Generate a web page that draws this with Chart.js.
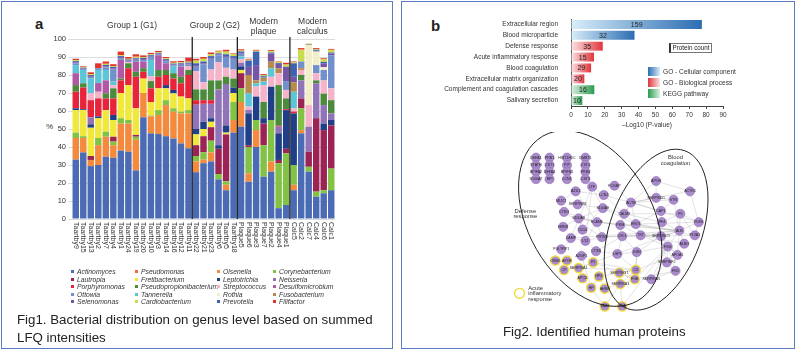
<!DOCTYPE html>
<html>
<head>
<meta charset="utf-8">
<script src="https://cdn.jsdelivr.net/npm/chart.js@4.4.1/dist/chart.umd.min.js"></script>
<style>
  body { margin: 0; width: 797px; height: 352px; background: #fff; position: relative; overflow: hidden;
         font-family: "Liberation Sans", Arial, sans-serif; color: #222; }
  .panel { position: absolute; top: 1px; height: 348px; border: 1.5px solid #5b7cc2; box-sizing: border-box; }
  canvas { position: absolute; }
  .tag { position: absolute; font-weight: bold; font-size: 15px; }
  .caption { position: absolute; line-height: 17.7px; color: #222; white-space: nowrap; font-size: 13.3px; }
  #genusLegend { position: absolute; left: 71px; top: 268px; display: grid;
                 grid-template-columns: 64px 82px 56px 80px; font-size: 6.8px; font-style: italic; color: #333; }
  #genusLegend div { height: 7.5px; line-height: 7.5px; white-space: nowrap; }
  #genusLegend span { display: inline-block; width: 3px; height: 3px; margin: 0 3px 1px 0; vertical-align: middle; }
  .pcount { position: absolute; left: 669px; top: 43px; width: 43px; height: 10px; box-sizing: border-box;
            border: 1px solid #777; border-left: 2px solid #333; font-size: 6.3px; line-height: 8px; text-align: center; }
  #termLegend { position: absolute; left: 648px; top: 67px; font-size: 6.6px; color: #333; }
  #termLegend div { height: 11px; line-height: 9px; white-space: nowrap; }
  #termLegend span { display: inline-block; width: 12px; height: 9px; margin-right: 3px; vertical-align: top; }
</style>
</head>
<body>
<div class="panel" style="left:1px;width:392px"></div>
<div class="panel" style="left:401px;width:394px"></div>

<div class="tag" style="left:35px;top:15px">a</div>
<div style="position:absolute;left:46px;top:122px;font-size:8px;color:#333">%</div>
<canvas id="genusChart" width="315" height="265" style="left:30px;top:5px"></canvas>
<div id="genusLegend"></div>
<div class="caption" style="left:17px;top:311px">Fig1. Bacterial distribution on genus level based on summed<br>LFQ intensities</div>

<div class="tag" style="left:431px;top:17px">b</div>
<canvas id="termChart" width="385" height="130" style="left:405px;top:5px"></canvas>
<div class="pcount">Protein count</div>
<div id="termLegend"></div>
<canvas id="networkChart" width="385" height="186" style="left:405px;top:132px"></canvas>
<div class="caption" style="left:503px;top:323px">Fig2. Identified human proteins</div>

<script>
// ---- Fig 1: genus distribution (stacked %) ----
const sampleLabels = ["Taartby9", "Taartby15", "Taartby13", "Taartby2", "Taartby7", "Taartby4", "Taartby1", "Taartby24",
  "Taartby19", "Taartby20", "Taartby10", "Taartby3", "Taartby14", "Taartby16", "Taartby12", "Taartby11",
  "Taartby22", "Taartby21", "Taartby23", "Taartby6", "Taartby5", "Taartby18",
  "Plaque5", "Plaque6", "Plaque3", "Plaque7", "Plaque2", "Plaque4", "Plaque1",
  "Calc5", "Calc2", "Calc7", "Calc4", "Calc6", "Calc1"];
const groupNames = [["Group 1 (G1)"], ["Group 2 (G2)"], ["Modern", "plaque"], ["Modern", "calculus"]];
const groupSizes = [16, 6, 7, 6];
const percentTicks = [0, 10, 20, 30, 40, 50, 60, 70, 80, 90, 100];

const actinomyces = [33, 37, 29.4, 30, 34.6, 34, 38, 37.4, 27, 56.5, 47.6, 47.2, 46, 44.7, 42, 39.3, 26, 31, 32, 22, 16, 48, 51.3, 20.7, 40, 23.5, 26.3, 6, 7.8, 16, 47.6, 26.3, 12.4, 14.3, 16];
const olsenella = [12, 8, 3.4, 11, 11.1, 7, 15, 15.6, 17, 13.5, 9.4, 10.6, 17.3, 14.9, 16.7, 19.4, 6, 2, 5, 0, 3, 7, 13.7, 4.7, 9.4, 0, 5.6, 0, 0, 3, 1.8, 0, 0, 0, 0];
const corynebacterium = [3, 1, 0, 4, 2.8, 2, 3, 2, 1.7, 0, 0.5, 2.7, 2.7, 1.9, 0.9, 1.8, 3, 4, 6.5, 3, 2, 10, 7.6, 14.6, 5.6, 17.5, 23.1, 25, 28.7, 11, 12.1, 2.7, 2.8, 1.7, 12];
const lautropia = [0, 0, 2.2, 0, 0, 2.7, 0, 0, 1, 0, 0, 0, 0, 0, 0, 0, 6, 9, 7.5, 14, 26, 0, 8.4, 1, 0, 12, 0, 1.8, 2.5, 0, 5.5, 8.4, 40.8, 33.4, 24];
const fretibacterium = [12.5, 14.5, 15.7, 11, 12, 9.3, 14, 19.4, 14.8, 8, 7.5, 12.1, 6.6, 8.3, 8.4, 6.5, 6, 4, 3, 0, 1, 5, 1.8, 0, 0, 0, 0, 0, 0, 0, 0, 0, 0, 0, 0];
const leptotrichia = [1, 0.5, 1.9, 1, 0, 2.8, 0, 0, 0, 0, 0, 0, 1.8, 1.9, 0, 0, 3, 4, 2, 2, 4, 3, 2, 17.7, 13, 3, 18.5, 14.8, 21.5, 28.7, 0, 0, 0, 3.6, 3];
const neisseria = [0, 0, 3.9, 0, 0, 0, 0, 0, 0, 0, 0, 0, 0, 0, 0, 0, 13.5, 10, 8, 31, 23, 0, 2, 2, 0, 0, 0, 3.7, 0, 0, 10, 13.9, 19.4, 10.3, 3.7];
const porphyromonas = [9.2, 12, 9.5, 10, 6.5, 9.2, 7, 9.3, 17.5, 3.8, 7.6, 6.4, 5.6, 6.3, 7.4, 13, 2.5, 2, 2, 0, 0, 0, 0, 0, 0, 0, 0, 0.5, 0.5, 1, 0, 0, 0, 0, 0];
const pseudopropionibacterium = [3.7, 2.4, 0, 0, 2.8, 5.6, 1, 2.8, 2.8, 2, 4, 3.8, 2.8, 3, 3.6, 2.8, 6, 6, 11, 5, 4, 5, 0, 0, 0, 9, 0, 22.6, 6, 0, 3, 0, 1.6, 6.3, 7.3];
const streptococcus = [0, 0, 4, 3.7, 0, 1.8, 0, 0.7, 0, 0, 2.8, 0, 0, 0, 0, 2, 10, 4, 6, 10, 5, 5, 2, 1.7, 5.6, 9.4, 5.5, 6.6, 4.7, 1.8, 2.8, 12, 4, 7.4, 6.6];
const desulfomicrobium = [6.6, 0, 0, 4.8, 7.2, 0, 10.4, 0, 5.6, 3.6, 0, 8.2, 3.7, 0, 5.6, 0, 0, 0, 0, 0, 0, 0, 0, 0, 0, 0, 0, 0, 0, 0, 0, 0, 0, 0, 0];
const tannerella = [4.5, 7.4, 8, 7.3, 5.8, 2, 0, 0, 0, 0, 9, 0, 0, 3.6, 0, 0, 0, 0, 0, 0, 0, 0, 1.5, 7.4, 1.8, 2, 4.7, 0, 0, 9.2, 0, 0, 0, 0, 0];
const fusobacterium = [0, 0, 0, 0, 0, 0, 0, 0, 0, 0, 0, 0, 0, 0, 0, 0, 0, 0, 0, 0, 0, 0, 0, 10.2, 1.6, 2, 3.7, 2.7, 0, 5.3, 1, 0, 0, 0, 0];
const ottowia = [1, 0.5, 1, 1, 1.5, 6.6, 1, 0.5, 1, 1, 1.5, 0.6, 1.2, 0.8, 1, 1, 3, 10, 6, 4, 6, 6, 1.5, 0, 0, 0.6, 0, 0, 4.9, 0, 3.7, 0, 4.5, 5.8, 18.4];
const rothia = [0, 0, 0, 0, 0, 0, 0, 0, 0, 0, 0, 0, 0, 0, 0, 0, 0, 0, 0, 0, 0, 0, 0, 0, 0, 0, 0, 0, 0, 0, 0, 33.4, 7.5, 1.5, 0];
const selenomonas = [0.5, 0.3, 0.5, 0, 0.5, 0.7, 0.5, 0.4, 0.4, 0.5, 0.4, 0.3, 0.5, 0.4, 0.4, 0.5, 0.5, 0.5, 0.5, 0.5, 0.5, 0.5, 0.5, 4.5, 8.5, 0, 4.6, 2.5, 8, 3, 0, 0.3, 0.5, 2, 1];
const prevotella = [0.7, 0.4, 0.5, 0, 0.8, 0.8, 0.6, 0.5, 0.5, 0.6, 0.7, 0.4, 0.6, 0.5, 0.5, 0.6, 1, 1, 1, 0.5, 1, 1, 0.8, 3.5, 7.5, 0.5, 0.5, 0.5, 0, 7.5, 0, 0, 0.5, 1, 0.5];
const cardiobacterium = [0.6, 0.3, 0.5, 0, 0.5, 0.5, 0.5, 0.4, 0.5, 0.5, 0.5, 0.4, 0.5, 0.5, 0.5, 0.5, 1.5, 1.5, 1, 1, 1.5, 1, 0.5, 0.5, 0.5, 0.5, 0.8, 0.7, 1.2, 0.5, 6.5, 0.5, 0.5, 1.5, 1.5];
const pseudomonas = [0, 0, 0, 0, 0.5, 0, 0, 0, 0.5, 0, 0, 0, 0, 0, 0, 0, 0, 0, 0, 0, 0, 0, 0, 0, 0, 0, 0, 0, 0, 0, 0.5, 0, 0, 0, 0];
const filifactor = [0.7, 0.5, 1, 2.7, 0.9, 1, 2, 1, 1.2, 0.9, 0.8, 0.7, 0.7, 0.8, 0.8, 2.3, 1, 1, 1, 0.5, 1, 0.5, 0.7, 0.5, 0.5, 0.5, 0.5, 0.3, 1, 0.5, 0.5, 0, 0.5, 0.5, 0.5];

// bottom -> top stacking
const stackOrder = [
  ["Actinomyces", actinomyces], ["Olsenella", olsenella], ["Corynebacterium", corynebacterium],
  ["Lautropia", lautropia], ["Fretibacterium", fretibacterium], ["Leptotrichia", leptotrichia],
  ["Neisseria", neisseria], ["Porphyromonas", porphyromonas], ["Pseudopropionibacterium", pseudopropionibacterium],
  ["Streptococcus", streptococcus], ["Desulfomicrobium", desulfomicrobium], ["Tannerella", tannerella],
  ["Fusobacterium", fusobacterium], ["Ottowia", ottowia], ["Rothia", rothia], ["Selenomonas", selenomonas],
  ["Prevotella", prevotella], ["Cardiobacterium", cardiobacterium], ["Pseudomonas", pseudomonas], ["Filifactor", filifactor]
];
const legendOrder = ["Actinomyces", "Pseudomonas", "Olsenella", "Corynebacterium",
  "Lautropia", "Fretibacterium", "Leptotrichia", "Neisseria",
  "Porphyromonas", "Pseudopropionibacterium", "Streptococcus", "Desulfomicrobium",
  "Ottowia", "Tannerella", "Rothia", "Fusobacterium",
  "Selenomonas", "Cardiobacterium", "Prevotella", "Filifactor"];

const genusColors = {
  Actinomyces: "#4b6cb4", Olsenella: "#f38a3d", Corynebacterium: "#82c244", Lautropia: "#9c2455",
  Fretibacterium: "#f0e83a", Leptotrichia: "#213f86", Neisseria: "#9173b7", Porphyromonas: "#e8243a",
  Pseudopropionibacterium: "#4c8b3c", Streptococcus: "#f5b4c9", Desulfomicrobium: "#b158a7", Tannerella: "#5cc6d6",
  Fusobacterium: "#b98a4e", Ottowia: "#7190cc", Rothia: "#f2eec8", Selenomonas: "#7555a6",
  Prevotella: "#3f61b2", Cardiobacterium: "#cadc50", Pseudomonas: "#f26442", Filifactor: "#e1342d"
};

const fontFamily = '"Liberation Sans", Arial, sans-serif';

const groupPlugin = {
  id: "groups",
  afterDatasetsDraw(chart) {
    const { ctx, chartArea, scales: { x } } = chart;
    ctx.save();
    ctx.strokeStyle = "#111";
    ctx.lineWidth = 1.2;
    ctx.fillStyle = "#333";
    ctx.font = "8.5px " + fontFamily;
    ctx.textAlign = "center";
    ctx.textBaseline = "middle";
    let start = 0;
    groupSizes.forEach((size, g) => {
      const end = start + size;
      const left = start === 0 ? chartArea.left : (x.getPixelForValue(start - 1) + x.getPixelForValue(start)) / 2;
      const right = end === sampleLabels.length ? chartArea.right : (x.getPixelForValue(end - 1) + x.getPixelForValue(end)) / 2;
      if (start > 0) {
        ctx.beginPath();
        ctx.moveTo(left, chartArea.top - 2);
        ctx.lineTo(left, chartArea.bottom);
        ctx.stroke();
      }
      const lines = groupNames[g];
      lines.forEach((t, k) => {
        const yy = lines.length === 1 ? 21 : 17 + k * 10;
        ctx.fillText(t, (left + right) / 2, yy);
      });
      start = end;
    });
    // sample labels, reading downwards
    ctx.font = "7px " + fontFamily;
    ctx.textAlign = "left";
    sampleLabels.forEach((lab, i) => {
      ctx.save();
      ctx.translate(x.getPixelForValue(i), chartArea.bottom + 3);
      ctx.rotate(Math.PI / 2);
      ctx.fillText(lab, 0, 0);
      ctx.restore();
    });
    ctx.restore();
  }
};

new Chart(document.getElementById("genusChart"), {
  type: "bar",
  data: {
    labels: sampleLabels,
    datasets: stackOrder.map(([name, values]) => ({
      label: name,
      data: values,
      backgroundColor: genusColors[name],
      borderWidth: 0,
      barPercentage: 0.86,
      categoryPercentage: 1
    }))
  },
  options: {
    responsive: false,
    animation: false,
    layout: { padding: { top: 34, right: 10, left: 0, bottom: 0 } },
    plugins: { legend: { display: false }, tooltip: { enabled: false } },
    scales: {
      x: {
        stacked: true,
        grid: { display: false },
        border: { display: false },
        ticks: { display: false },
        afterFit(scale) { scale.height = 51; }
      },
      y: {
        stacked: true,
        min: 0,
        max: 100,
        afterBuildTicks(scale) { scale.ticks = percentTicks.map(v => ({ value: v })); },
        grid: { color: "#dcdcdc", tickLength: 4 },
        border: { display: false },
        ticks: { font: { size: 7.5, family: fontFamily }, color: "#333", padding: 2 },
        afterFit(scale) { scale.width = 42; }
      }
    }
  },
  plugins: [groupPlugin]
});

const legendBox = document.getElementById("genusLegend");
legendOrder.forEach(name => {
  const item = document.createElement("div");
  item.innerHTML = `<span style="background:${genusColors[name]}"></span>${name}`;
  legendBox.appendChild(item);
});

// ---- Fig 2: enriched terms ----
const termLabels = ["Extracellular region", "Blood microparticle", "Defense response", "Acute inflammatory response",
  "Blood coagulation", "Extracellular matrix organization", "Complement and coagulation cascades", "Salivary secretion"];
const termLogP = [77.5, 37.6, 18.8, 13.6, 11.9, 7.9, 13.8, 6.7];
const termCounts = [159, 32, 35, 15, 29, 20, 16, 10];
const termSource = ["GO - Cellular component", "GO - Cellular component", "GO - Biological process", "GO - Biological process",
  "GO - Biological process", "GO - Biological process", "KEGG pathway", "KEGG pathway"];
const sourceNames = ["GO - Cellular component", "GO - Biological process", "KEGG pathway"];
const logTicks = [0, 10, 20, 30, 40, 50, 60, 70, 80, 90];

const sourceGradient = {
  "GO - Cellular component": ["#d8eefa", "#2c6db2"],
  "GO - Biological process": ["#fbe4e6", "#e1353c"],
  "KEGG pathway": ["#dcf2e1", "#2c9a52"]
};

const countPlugin = {
  id: "counts",
  afterDatasetsDraw(chart) {
    const { ctx } = chart;
    const meta = chart.getDatasetMeta(0);
    ctx.save();
    ctx.font = "7px " + fontFamily;
    ctx.fillStyle = "#222";
    ctx.textAlign = "center";
    ctx.textBaseline = "middle";
    meta.data.forEach((bar, i) => {
      ctx.fillText(String(termCounts[i]), (bar.x + bar.base) / 2, bar.y + 0.5);
    });
    ctx.restore();
  }
};

new Chart(document.getElementById("termChart"), {
  type: "bar",
  data: {
    labels: termLabels,
    datasets: [{
      data: termLogP,
      borderWidth: 0,
      barPercentage: 0.82,
      categoryPercentage: 1,
      backgroundColor(c) {
        const chart = c.chart;
        if (!chart.chartArea) return "#888";
        const xs = chart.scales.x;
        const x0 = xs.getPixelForValue(0);
        const x1 = xs.getPixelForValue(termLogP[c.dataIndex]);
        const stops = sourceGradient[termSource[c.dataIndex]];
        const g = chart.ctx.createLinearGradient(x0, 0, x1, 0);
        g.addColorStop(0, stops[0]);
        g.addColorStop(1, stops[1]);
        return g;
      }
    }]
  },
  options: {
    indexAxis: "y",
    responsive: false,
    animation: false,
    layout: { padding: { top: 14, right: 67, left: 0, bottom: 0 } },
    plugins: { legend: { display: false }, tooltip: { enabled: false } },
    scales: {
      x: {
        min: 0,
        max: 90,
        afterBuildTicks(scale) { scale.ticks = logTicks.map(v => ({ value: v })); },
        grid: { drawOnChartArea: false, drawTicks: true, tickLength: 3, color: "#444" },
        border: { display: true, color: "#444" },
        ticks: { font: { size: 6.5, family: fontFamily }, color: "#333", padding: 2, maxRotation: 0 },
        title: {
          display: true,
          text: "\u2013Log10 (P-value)",
          font: { size: 6.5, family: fontFamily },
          color: "#333",
          padding: { top: 1, bottom: 6 }
        },
        afterFit(scale) { scale.height = 29; }
      },
      y: {
        grid: { display: false },
        border: { display: true, color: "#444" },
        ticks: { font: { size: 6.5, family: fontFamily }, color: "#333", padding: 5 },
        afterFit(scale) { scale.width = 166; }
      }
    }
  },
  plugins: [countPlugin]
});

const termLegend = document.getElementById("termLegend");
sourceNames.forEach(name => {
  const [light, dark] = sourceGradient[name];
  const row = document.createElement("div");
  row.innerHTML = `<span style="background:linear-gradient(90deg, ${dark}, ${light})"></span>${name}`;
  termLegend.appendChild(row);
});

// ---- Fig 2: protein network ----
const nodeLabels = ["DEFA1", "PRB1", "HIST1H1C", "DMBT1", "STATH", "CST1", "PIP", "CST4",
  "BPIFA2", "DEFA4", "BPIFB1", "PRB4", "S100A7", "BPI", "LCN1", "CST3",
  "FCGBP", "LTF", "AZU1", "LCN2", "MUC7", "SERPINB3", "S100A9", "CTSG", "S100A8", "ELANE", "HRNR", "CD14",
  "CAMP", "LYZ", "PRTN3", "PGLYRP1", "AZGP1", "CTSB",
  "ACTB", "CALM3", "PKM", "ENO1", "CFL1", "TKT", "LSP1", "GSN",
  "APOH", "SERPIND1", "VTN", "CAP1", "F5", "PLEK", "PF4", "ALB", "F13A1", "SERPINC1", "A1BG", "FGG",
  "APOA1", "SERPINF2", "FN1", "ACTN1", "SERPINA5",
  "ORM1", "APOE", "CP", "SERPINA1", "F2", "APCS", "HPX", "HP", "AHSG", "SERPING1", "C3", "SERPINA3", "FGB", "SAA1", "FGA"];
const nodeX = [134, 148, 166, 185, 134, 148, 166, 185, 134, 148, 166, 185, 134, 148, 166, 185,
  215, 192, 175, 204, 160, 177, 203, 163, 178, 197, 162, 182,
  170, 185, 202, 160, 181, 196,
  232, 225, 221, 237, 223, 242, 218, 238,
  258, 258, 276, 263, 283, 302, 264, 282, 298, 263, 287, 270,
  280, 269, 278, 293, 253,
  154, 166, 163, 178, 193, 182, 199, 191, 205, 220, 237, 221, 236, 205, 223];
const nodeY = [23, 23, 23, 23, 31, 31, 31, 31, 38, 38, 38, 38, 46, 46, 46, 46,
  53, 54, 59, 63, 69, 73, 77, 81, 88, 92, 97, 100,
  109, 112, 108, 121, 128, 123,
  71, 83, 95, 94, 107, 106, 126, 124,
  48, 66, 68, 80, 83, 92, 92, 101, 106, 107, 115, 118,
  127, 135, 144, 59, 153,
  133, 133, 143, 141, 135, 152, 150, 162, 163, 146, 143, 158, 153, 182, 182];
const acuteNodes = ["ORM1", "APOE", "CP", "SERPINA1", "F2", "APCS", "HPX", "HP", "AHSG", "SERPING1", "C3", "SERPINA3", "FGB", "SAA1", "FGA"];
const edgePairs = [
  ["ACTB", "CALM3"], ["ACTB", "PKM"], ["ACTB", "ENO1"], ["ACTB", "ACTN1"], ["ACTB", "SERPIND1"], ["ACTB", "CAP1"],
  ["ACTB", "LCN2"], ["ACTB", "FCGBP"], ["ACTB", "VTN"], ["ACTB", "PLEK"], ["ACTB", "APOH"],
  ["CALM3", "PKM"], ["CALM3", "ENO1"], ["CALM3", "S100A9"], ["CALM3", "F5"], ["CALM3", "PF4"], ["CALM3", "LCN2"],
  ["PKM", "ENO1"], ["PKM", "CFL1"], ["PKM", "TKT"], ["PKM", "ELANE"], ["PKM", "ALB"], ["PKM", "S100A8"],
  ["ENO1", "TKT"], ["ENO1", "ALB"], ["ENO1", "F13A1"], ["ENO1", "PLEK"], ["ENO1", "CAP1"], ["ENO1", "S100A9"],
  ["CFL1", "TKT"], ["CFL1", "LSP1"], ["CFL1", "GSN"], ["CFL1", "PRTN3"], ["CFL1", "SERPINC1"], ["CFL1", "CTSB"],
  ["TKT", "SERPINC1"], ["TKT", "ALB"], ["TKT", "FGG"], ["TKT", "A1BG"], ["TKT", "F13A1"], ["TKT", "PRTN3"],
  ["LSP1", "GSN"], ["LSP1", "CTSB"], ["LSP1", "C3"], ["GSN", "FGB"], ["GSN", "SERPINC1"], ["GSN", "FGG"], ["GSN", "C3"],
  ["ALB", "F5"], ["ALB", "PLEK"], ["ALB", "SERPINC1"], ["ALB", "A1BG"], ["ALB", "APOA1"], ["ALB", "FGG"], ["ALB", "VTN"],
  ["ALB", "ELANE"], ["ALB", "SERPINA1"], ["ALB", "CAMP"],
  ["SERPINC1", "FGG"], ["SERPINC1", "APOA1"], ["SERPINC1", "SERPINF2"], ["FGG", "APOA1"], ["FGG", "SERPINF2"],
  ["FGG", "FN1"], ["SERPINF2", "FN1"], ["FN1", "SERPINA5"], ["SERPINF2", "SERPINA5"], ["FGG", "SERPINA5"],
  ["APOH", "SERPIND1"], ["APOH", "ACTN1"], ["SERPIND1", "VTN"], ["VTN", "CAP1"], ["CAP1", "PF4"], ["PF4", "F5"],
  ["F5", "PLEK"], ["PLEK", "F13A1"], ["ACTN1", "PLEK"], ["F5", "F13A1"], ["PF4", "ALB"],
  ["C3", "FGB"], ["C3", "SERPING1"], ["C3", "SERPINA3"], ["FGB", "SERPINA3"], ["SERPING1", "SERPINA3"],
  ["SERPINA3", "FGA"], ["FGA", "SAA1"], ["FGB", "FN1"], ["C3", "APOA1"], ["FGA", "FGG"], ["FGB", "FGG"],
  ["S100A8", "S100A9"], ["S100A8", "ELANE"], ["ELANE", "PRTN3"], ["ELANE", "CTSG"], ["PRTN3", "CTSG"],
  ["LYZ", "LTF"], ["LTF", "LCN2"], ["LCN2", "AZU1"], ["CAMP", "LTF"], ["CAMP", "LYZ"], ["LYZ", "ELANE"],
  ["PRTN3", "LYZ"], ["CD14", "S100A8"], ["HRNR", "S100A8"], ["CTSB", "LYZ"], ["AZGP1", "HP"],
  ["PGLYRP1", "S100A9"], ["MUC7", "AZU1"], ["SERPINB3", "S100A9"], ["AZU1", "ELANE"], ["LTF", "S100A9"],
  ["HPX", "C3"], ["F2", "SERPINA1"], ["SERPINA1", "APCS"], ["APCS", "HP"], ["AHSG", "HPX"], ["F2", "C3"],
  ["APOE", "ORM1"], ["ORM1", "CP"], ["CP", "SERPINA1"], ["AHSG", "FGA"], ["HP", "SAA1"], ["F2", "FGB"],
  ["HP", "HPX"], ["SERPINA1", "C3"], ["AHSG", "SERPINA3"], ["SERPING1", "FGB"], ["SAA1", "SERPINA3"]
];

const ellipses = [
  { cx: 190, cy: 88, rx: 95, ry: 62, rot: 60 },
  { cx: 258, cy: 100, rx: 84, ry: 46, rot: 110 }
];

const networkPlugin = {
  id: "network",
  beforeDatasetsDraw(chart) {
    const { ctx, scales: { x, y } } = chart;
    ctx.save();
    ctx.strokeStyle = "rgba(170,170,170,0.55)";
    ctx.lineWidth = 0.6;
    edgePairs.forEach(([a, b]) => {
      const i = nodeLabels.indexOf(a), j = nodeLabels.indexOf(b);
      ctx.beginPath();
      ctx.moveTo(x.getPixelForValue(nodeX[i]), y.getPixelForValue(nodeY[i]));
      ctx.lineTo(x.getPixelForValue(nodeX[j]), y.getPixelForValue(nodeY[j]));
      ctx.stroke();
    });
    ctx.restore();
  },
  afterDatasetsDraw(chart) {
    const { ctx, scales: { x, y } } = chart;
    ctx.save();
    ctx.font = "3.6px " + fontFamily;
    ctx.fillStyle = "#222";
    ctx.textAlign = "center";
    ctx.textBaseline = "middle";
    nodeLabels.forEach((lab, i) => {
      ctx.fillText(lab, x.getPixelForValue(nodeX[i]), y.getPixelForValue(nodeY[i]));
    });
    ctx.strokeStyle = "#222";
    ctx.lineWidth = 1;
    ellipses.forEach(e => {
      ctx.beginPath();
      ctx.ellipse(x.getPixelForValue(e.cx), y.getPixelForValue(e.cy), e.rx, e.ry, e.rot * Math.PI / 180, 0, Math.PI * 2);
      ctx.stroke();
    });
    ctx.font = "5.8px " + fontFamily;
    ctx.fillStyle = "#333";
    ctx.fillText("Defense", x.getPixelForValue(123), y.getPixelForValue(80));
    ctx.fillText("response", x.getPixelForValue(123), y.getPixelForValue(86));
    ctx.fillText("Blood", x.getPixelForValue(278), y.getPixelForValue(23));
    ctx.fillText("coagulation", x.getPixelForValue(278), y.getPixelForValue(29.5));
    ctx.textAlign = "left";
    ctx.fillText("Acute", x.getPixelForValue(126), y.getPixelForValue(162.5));
    ctx.fillText("inflammatory", x.getPixelForValue(126), y.getPixelForValue(168.5));
    ctx.fillText("response", x.getPixelForValue(126), y.getPixelForValue(174.5));
    ctx.strokeStyle = "#f0d93a";
    ctx.lineWidth = 1.3;
    ctx.beginPath();
    ctx.arc(x.getPixelForValue(117), y.getPixelForValue(168), 5, 0, Math.PI * 2);
    ctx.stroke();
    ctx.restore();
  }
};

new Chart(document.getElementById("networkChart"), {
  type: "scatter",
  data: {
    datasets: [{
      data: nodeX.map((v, i) => ({ x: v, y: nodeY[i] })),
      pointRadius: 4.6,
      pointBackgroundColor: "#a98acb",
      pointBorderColor: nodeLabels.map(n => acuteNodes.includes(n) ? "#f2dc3c" : "#9272bb"),
      pointBorderWidth: nodeLabels.map(n => acuteNodes.includes(n) ? 1.4 : 0.6)
    }]
  },
  options: {
    responsive: false,
    animation: false,
    layout: { padding: 0 },
    plugins: { legend: { display: false }, tooltip: { enabled: false } },
    scales: {
      x: { display: false, min: 5, max: 390 },
      y: { display: false, min: 2, max: 188, reverse: true }
    }
  },
  plugins: [networkPlugin]
});
</script>
</body>
</html>
